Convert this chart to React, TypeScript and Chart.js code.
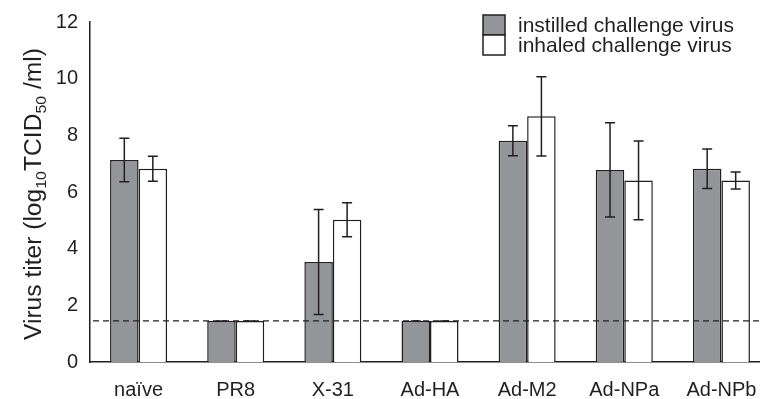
import React, { useEffect, useRef } from "react";
import { Chart, registerables } from "chart.js";

Chart.register(...registerables);

const categories = ["naïve", "PR8", "X-31", "Ad-HA", "Ad-M2", "Ad-NPa", "Ad-NPb"];
const instilledValues = [7.13, 1.45, 3.53, 1.45, 7.81, 6.78, 6.82];
const instilledErrors = [0.77, 0, 1.85, 0, 0.53, 1.66, 0.7];
const inhaledValues = [6.82, 1.45, 5.02, 1.45, 8.67, 6.41, 6.41];
const inhaledErrors = [0.44, 0, 0.6, 0, 1.4, 1.39, 0.3];
const seriesLabels = ["instilled challenge virus", "inhaled challenge virus"];
const detectionLimit = 1.45;
const yTicks = [0, 2, 4, 6, 8, 10, 12];

const INK = "#231f20";
const GRAY = "#939598";
const FONT = "'Liberation Sans', Arial, sans-serif";

const errors = [instilledErrors, inhaledErrors];

const errorBarPlugin = {
  id: "errorBars",
  afterDatasetsDraw(chart: any) {
    const ctx = chart.ctx;
    const yScale = chart.scales.y;
    ctx.save();
    const ly = yScale.getPixelForValue(detectionLimit);
    ctx.strokeStyle = INK;
    ctx.lineWidth = 1.2;
    ctx.setLineDash([6, 4]);
    ctx.beginPath();
    ctx.moveTo(chart.chartArea.left + 3, ly);
    ctx.lineTo(chart.chartArea.right, ly);
    ctx.stroke();
    ctx.setLineDash([]);
    ctx.lineWidth = 1.5;
    chart.data.datasets.forEach((ds: any, di: number) => {
      const meta = chart.getDatasetMeta(di);
      meta.data.forEach((bar: any, i: number) => {
        const v = ds.data[i];
        const e = errors[di][i];
        const x = bar.x;
        const yt = yScale.getPixelForValue(v + e);
        const yb = yScale.getPixelForValue(v - e);
        ctx.beginPath();
        ctx.moveTo(x, yt);
        ctx.lineTo(x, yb);
        ctx.moveTo(x - 5, yt);
        ctx.lineTo(x + 5, yt);
        ctx.moveTo(x - 5, yb);
        ctx.lineTo(x + 5, yb);
        ctx.stroke();
      });
    });
    ctx.restore();
  },
  afterDraw(chart: any) {
    const ctx = chart.ctx;
    ctx.save();
    const boxX = 483;
    const boxY = [15, 35];
    chart.data.datasets.forEach((ds: any, di: number) => {
      ctx.fillStyle = ds.backgroundColor;
      ctx.fillRect(boxX, boxY[di], 22, 20);
      ctx.strokeStyle = INK;
      ctx.lineWidth = 1.5;
      ctx.strokeRect(boxX, boxY[di], 22, 20);
      ctx.fillStyle = INK;
      ctx.font = `21px ${FONT}`;
      ctx.textBaseline = "middle";
      ctx.textAlign = "left";
      ctx.fillText(ds.label, 518, boxY[di] + 11);
    });
    const parts: [string, boolean][] = [
      ["Virus titer (log", false],
      ["10", true],
      ["TCID", false],
      ["50", true],
      [" /ml)", false],
    ];
    const mainFont = `23px ${FONT}`;
    const subFont = `15px ${FONT}`;
    let total = 0;
    parts.forEach(([t, sub]) => {
      ctx.font = sub ? subFont : mainFont;
      total += ctx.measureText(t).width;
    });
    const targetLen = 292;
    const f = targetLen / total;
    ctx.translate(41, 194);
    ctx.rotate(-Math.PI / 2);
    ctx.scale(f, 1);
    ctx.textBaseline = "alphabetic";
    ctx.textAlign = "left";
    ctx.fillStyle = INK;
    let x = -total / 2;
    parts.forEach(([t, sub]) => {
      ctx.font = sub ? subFont : mainFont;
      ctx.fillText(t, x, sub ? 5 : 0);
      x += ctx.measureText(t).width;
    });
    ctx.restore();
  },
};

export default function App() {
  const ref = useRef<HTMLCanvasElement>(null);
  useEffect(() => {
    if (!ref.current) return;
    const chart = new Chart(ref.current, {
      type: "bar",
      data: {
        labels: categories,
        datasets: [
          {
            label: seriesLabels[0],
            data: instilledValues,
            backgroundColor: GRAY,
            borderColor: INK,
            borderWidth: 1.5,
          },
          {
            label: seriesLabels[1],
            data: inhaledValues,
            backgroundColor: "#ffffff",
            borderColor: INK,
            borderWidth: 1.5,
          },
        ],
      },
      options: {
        responsive: false,
        animation: false,
        devicePixelRatio: 1,
        layout: { padding: { top: 22, right: 5, left: 0, bottom: 0 } },
        datasets: { bar: { categoryPercentage: 0.587, barPercentage: 1 } },
        plugins: { legend: { display: false }, tooltip: { enabled: false } },
        scales: {
          x: {
            grid: { display: false },
            border: { display: true, color: INK, width: 1.5 },
            ticks: { color: INK, font: { family: FONT, size: 20 }, padding: 8, maxRotation: 0 },
            afterFit: (s: any) => {
              s.height = 37;
            },
          },
          y: {
            min: 0,
            max: 12,
            grid: { display: false },
            border: { display: true, color: INK, width: 1.5 },
            afterBuildTicks: (s: any) => {
              s.ticks = yTicks.map((v) => ({ value: v }));
            },
            ticks: { color: INK, font: { family: FONT, size: 20 }, padding: 4 },
            afterFit: (s: any) => {
              s.width = 90;
            },
          },
        },
      },
      plugins: [errorBarPlugin],
    } as any);
    return () => chart.destroy();
  }, []);
  return (
    <div style={{ position: "fixed", left: 0, top: 0, width: 760, height: 399, overflow: "hidden", background: "#fff" }}>
      <canvas ref={ref} width={775} height={399} style={{ width: 775, height: 399, display: "block" }} />
    </div>
  );
}
